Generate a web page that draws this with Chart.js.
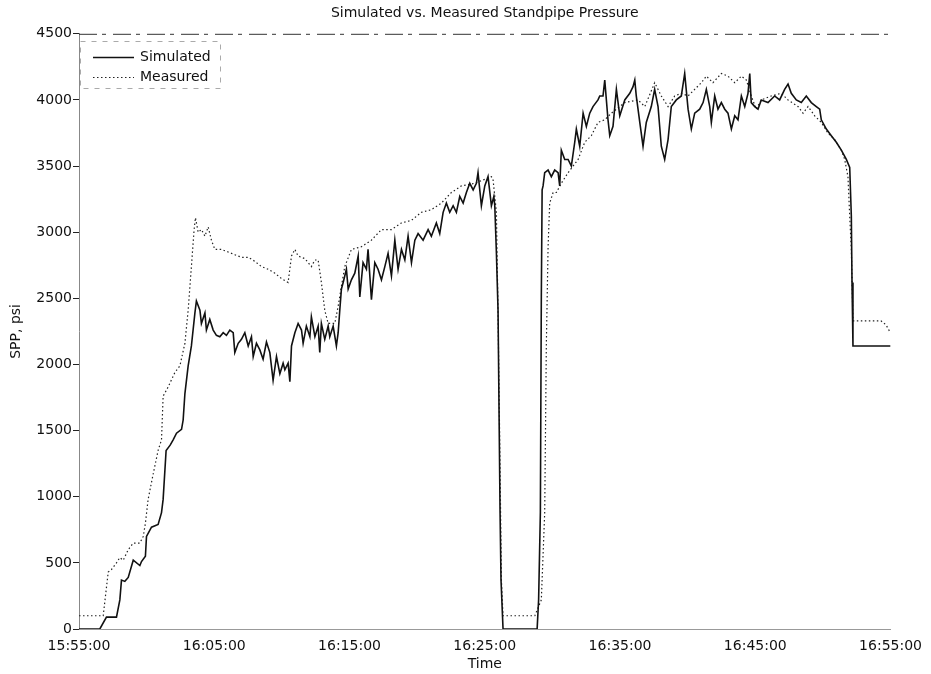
<!DOCTYPE html>
<html>
<head>
<meta charset="utf-8">
<title>Simulated vs. Measured Standpipe Pressure</title>
<script src="https://cdn.jsdelivr.net/npm/chart.js@4.4.1/dist/chart.umd.min.js"></script>
<style>
  html, body { margin: 0; padding: 0; background: #fff; }
  #wrap { width: 931px; height: 674px; position: relative; }
</style>
</head>
<body>
<div id="wrap"><canvas id="sppChart"></canvas></div>
<script>
// time is in minutes after 15:55:00
const simMinutes = [
  0, 1.54, 2.03, 2.77, 3.02, 3.14, 3.39, 3.64, 4.01, 4.50,
  4.62, 4.91, 4.99, 5.36, 5.85, 6.10, 6.22, 6.44, 6.74, 6.96,
  7.21, 7.58, 7.70, 7.83, 8.07, 8.31, 8.57, 8.68, 8.94, 9.05,
  9.31, 9.42, 9.67, 9.92, 10.16, 10.41, 10.66, 10.90, 11.15, 11.40,
  11.52, 11.77, 12.01, 12.26, 12.51, 12.75, 12.88, 13.12, 13.37, 13.61,
  13.86, 14.11, 14.35, 14.60, 14.85, 15.09, 15.22, 15.46, 15.59, 15.71,
  15.96, 16.20, 16.45, 16.57, 16.81, 17.07, 17.18, 17.44, 17.68, 17.80,
  17.92, 18.17, 18.42, 18.54, 18.79, 19.03, 19.16, 19.28, 19.40, 19.53,
  19.77, 19.90, 20.14, 20.39, 20.64, 20.76, 21.00, 21.25, 21.37, 21.62,
  21.87, 22.11, 22.36, 22.61, 22.85, 23.10, 23.35, 23.59, 23.84, 24.09,
  24.33, 24.58, 24.83, 25.07, 25.44, 25.81, 26.05, 26.42, 26.67, 26.92,
  27.16, 27.41, 27.66, 27.90, 28.15, 28.40, 28.64, 28.89, 29.14, 29.38,
  29.50, 29.75, 30.00, 30.24, 30.49, 30.67, 30.74, 30.86, 30.98, 31.13,
  31.20, 31.35, 33.87, 33.98, 34.11, 34.18, 34.24, 34.31, 34.43, 34.68,
  34.92, 35.17, 35.42, 35.54, 35.66, 35.91, 36.16, 36.40, 36.65, 36.77,
  37.02, 37.27, 37.51, 37.76, 38.00, 38.37, 38.50, 38.74, 38.87, 39.11,
  39.24, 39.48, 39.73, 39.98, 40.35, 40.72, 40.96, 41.09, 41.20, 41.46,
  41.70, 41.94, 42.31, 42.56, 42.81, 43.05, 43.30, 43.55, 43.79, 44.16,
  44.53, 44.78, 45.03, 45.27, 45.52, 45.89, 46.14, 46.38, 46.63, 46.75,
  47.00, 47.24, 47.49, 47.74, 47.98, 48.23, 48.48, 48.72, 48.97, 49.22,
  49.46, 49.59, 49.70, 49.96, 50.20, 50.44, 50.94, 51.43, 51.80, 52.17,
  52.42, 52.66, 53.03, 53.40, 53.77, 54.14, 54.51, 54.76, 54.88, 55.25,
  55.62, 55.99, 56.36, 56.73, 56.98, 57.10, 57.15, 57.22, 60.00
];
const simPsi = [
  0, 0, 90, 90, 220, 370, 360, 390, 520, 480,
  510, 550, 700, 770, 790, 880, 980, 1350, 1390, 1430,
  1480, 1510, 1580, 1780, 1990, 2140, 2390, 2480, 2410, 2310,
  2390, 2260, 2340, 2260, 2220, 2210, 2240, 2220, 2260, 2240,
  2090, 2160, 2190, 2240, 2140, 2210, 2060, 2160, 2110, 2040,
  2170, 2090, 1880, 2060, 1930, 2010, 1960, 2010, 1870, 2140,
  2240, 2310, 2260, 2160, 2290, 2210, 2360, 2210, 2290, 2090,
  2310, 2190, 2290, 2210, 2290, 2140, 2240, 2410, 2570, 2620,
  2720, 2570, 2640, 2690, 2820, 2510, 2770, 2720, 2870, 2490,
  2770, 2720, 2640, 2740, 2840, 2670, 2940, 2720, 2870, 2790,
  2970, 2770, 2940, 2990, 2940, 3020, 2970, 3070, 2990, 3150,
  3220, 3150, 3200, 3150, 3270, 3220, 3300, 3370, 3320, 3370,
  3450, 3200, 3350, 3420, 3200, 3270, 3200, 2840, 2410, 880,
  370, 0, 0, 220, 880, 2510, 3320, 3350, 3450, 3470,
  3420, 3470, 3450, 3350, 3620, 3550, 3550, 3500, 3680, 3780,
  3650, 3900, 3800, 3900, 3950, 4000, 4030, 4030, 4150, 3850,
  3730, 3800, 4080, 3880, 4000, 4050, 4100, 4150, 4030, 3830,
  3650, 3830, 3950, 4080, 3950, 3650, 3550, 3700, 3950, 4000,
  4030, 4200, 3930, 3780, 3900, 3930, 3980, 4080, 3950, 3830,
  4030, 3930, 3980, 3930, 3900, 3780, 3880, 3850, 4030, 3950,
  4050, 4200, 3980, 3950, 3930, 4000, 3980, 4030, 4000, 4080,
  4120, 4050, 4000, 3980, 4030, 3980, 3950, 3930, 3850, 3780,
  3730, 3680, 3620, 3550, 3490, 3120, 2620, 2140, 2140
];
const measMinutes = [
  0, 1.79, 2.16, 2.40, 2.77, 3.02, 3.27, 3.64, 4.01, 4.50,
  4.75, 4.91, 5.11, 5.48, 5.85, 6.10, 6.22, 6.59, 7.09, 7.46,
  7.83, 8.07, 8.31, 8.51, 8.61, 8.81, 9.05, 9.31, 9.55, 9.79,
  10.04, 10.53, 11.03, 11.52, 12.01, 12.51, 13.00, 13.49, 13.98, 14.48,
  14.97, 15.46, 15.71, 15.96, 16.20, 16.70, 17.18, 17.44, 17.68, 17.92,
  18.17, 18.42, 18.91, 19.16, 19.40, 19.65, 20.14, 20.88, 21.62, 22.36,
  23.10, 23.84, 24.58, 25.31, 26.05, 26.79, 27.53, 28.27, 29.26, 30.00,
  30.49, 30.61, 30.86, 30.98, 31.11, 31.23, 31.35, 33.70, 34.18, 34.43,
  34.55, 34.68, 34.80, 35.05, 35.29, 35.66, 36.16, 36.90, 37.39, 37.88,
  38.37, 38.87, 39.36, 40.35, 41.33, 41.83, 42.56, 43.05, 43.55, 44.04,
  44.53, 45.03, 45.52, 46.01, 46.38, 46.87, 47.49, 47.98, 48.48, 48.97,
  49.34, 49.70, 50.07, 50.44, 51.18, 51.92, 52.42, 53.16, 53.53, 53.90,
  54.39, 54.88, 55.37, 55.87, 56.36, 56.61, 56.85, 56.98, 57.10, 57.22,
  59.29, 59.66, 59.93
];
const measPsi = [
  100, 100, 430, 450, 500, 540, 520, 600, 650, 650,
  700, 800, 980, 1170, 1350, 1430, 1760, 1830, 1940, 1990,
  2160, 2410, 2740, 3020, 3110, 3000, 3020, 2970, 3040, 2940,
  2870, 2870, 2850, 2830, 2810, 2810, 2780, 2740, 2720, 2690,
  2650, 2620, 2820, 2870, 2820, 2800, 2740, 2790, 2790, 2620,
  2410, 2310, 2310, 2440, 2590, 2740, 2870, 2890, 2940, 3020,
  3020, 3070, 3090, 3150, 3170, 3220, 3300, 3350, 3370, 3400,
  3420, 3400, 3150, 2390, 1380, 370, 100, 100, 220, 880,
  2140, 2890, 3220, 3300, 3300, 3370, 3450, 3550, 3680, 3730,
  3830, 3850, 3900, 3980, 4000, 3950, 4130, 4030, 3950, 4030,
  4050, 4030, 4080, 4130, 4180, 4130, 4200, 4180, 4130, 4180,
  4150, 4030, 3930, 4000, 4030, 4050, 4000, 3950, 3900, 3950,
  3880, 3830, 3750, 3700, 3620, 3550, 3420, 3120, 2870, 2330,
  2330, 2300, 2250
];
const timeLabels = ["15:55:00", "16:05:00", "16:15:00", "16:25:00", "16:35:00", "16:45:00", "16:55:00"];

Chart.defaults.font.family = "'DejaVu Sans', sans-serif";
Chart.defaults.font.size = 14;
Chart.defaults.color = "#111";

function toPoints(xs, ys) {
  return xs.map((x, i) => ({ x: x, y: ys[i] }));
}

// top frame line and the boxed legend in the upper left corner
const framePlugin = {
  id: "frame",
  afterDraw(chart) {
    const ctx = chart.ctx;
    const a = chart.chartArea;
    ctx.save();
    ctx.strokeStyle = "#333";
    ctx.lineWidth = 1;
    ctx.setLineDash([18, 5, 4, 7]);
    ctx.beginPath();
    ctx.moveTo(a.left, a.top + 0.5);
    ctx.lineTo(a.right, a.top + 0.5);
    ctx.stroke();

    ctx.strokeStyle = "#aaa";
    ctx.setLineDash([5, 6]);
    ctx.strokeRect(a.left + 1.5, 41.5, 140, 47);

    ctx.font = "14px 'DejaVu Sans'";
    ctx.textBaseline = "middle";
    ctx.fillStyle = "#111";
    const rows = [57, 77];
    chart.data.datasets.forEach((ds, i) => {
      const y = rows[i] + 0.5;
      ctx.strokeStyle = ds.borderColor;
      ctx.lineWidth = ds.borderWidth;
      ctx.setLineDash(ds.borderDash || []);
      ctx.beginPath();
      ctx.moveTo(93, y);
      ctx.lineTo(134, y);
      ctx.stroke();
      ctx.fillText(ds.label, 140, rows[i]);
    });
    ctx.restore();
  }
};

new Chart(document.getElementById("sppChart"), {
  type: "line",
  data: {
    datasets: [{
      label: "Simulated",
      data: toPoints(simMinutes, simPsi),
      borderColor: "#111",
      borderWidth: 1.6,
      pointRadius: 0,
      tension: 0,
      fill: false
    }, {
      label: "Measured",
      data: toPoints(measMinutes, measPsi),
      borderColor: "#222",
      borderWidth: 1.2,
      borderDash: [1.5, 2.5],
      pointRadius: 0,
      tension: 0,
      fill: false
    }]
  },
  options: {
    animation: false,
    responsive: true,
    maintainAspectRatio: false,
    layout: { padding: { top: 0, right: 39, bottom: 0, left: 0 } },
    plugins: {
      legend: { display: false },
      tooltip: { enabled: false },
      title: {
        display: true,
        text: "Simulated vs. Measured Standpipe Pressure",
        fullSize: false,
        color: "#111",
        font: { size: 14, weight: "normal" },
        padding: { top: 5, bottom: 12 }
      }
    },
    scales: {
      x: {
        type: "linear",
        min: 0,
        max: 60,
        afterFit: s => { s.height = 45; },
        ticks: {
          stepSize: 10,
          padding: 9,
          maxRotation: 0,
          color: "#111",
          callback: v => timeLabels[Math.round(v / 10)]
        },
        grid: { drawOnChartArea: false, drawTicks: false },
        border: { display: true, color: "#999", dash: [3, 9] },
        title: { display: true, text: "Time", color: "#111", padding: { top: 0, bottom: 1 } }
      },
      y: {
        min: 0,
        max: 4500,
        afterFit: s => { s.width = 79; },
        ticks: { stepSize: 500, padding: 1, color: "#111", callback: v => String(v) },
        grid: { drawOnChartArea: false, drawTicks: true, tickLength: 6, color: "#222" },
        border: { display: true, color: "#888", dash: [3, 5] },
        title: { display: true, text: "SPP, psi", color: "#111", padding: { top: 8, bottom: 0 } }
      }
    }
  },
  plugins: [framePlugin]
});
</script>
</body>
</html>
